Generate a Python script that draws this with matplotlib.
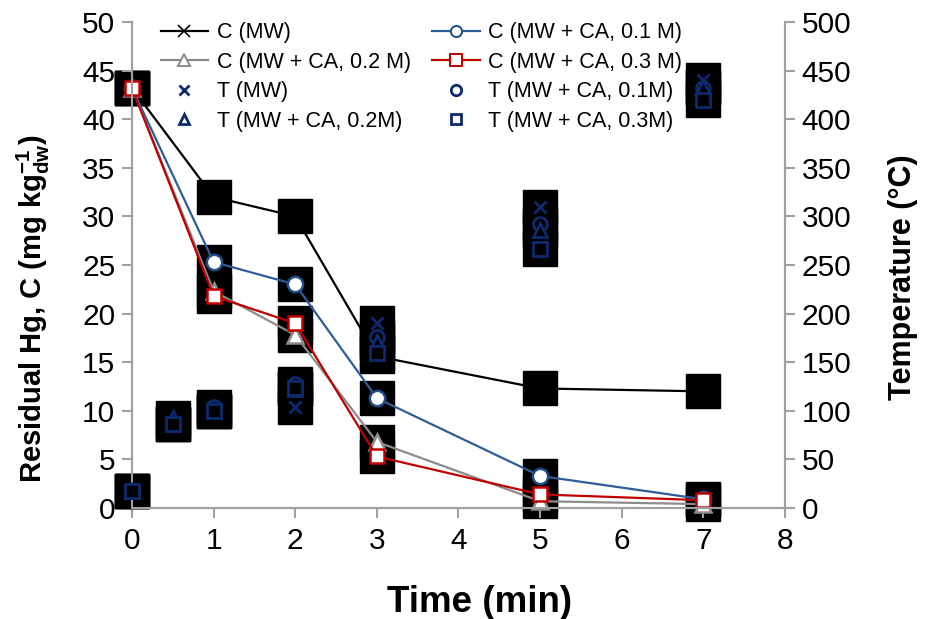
import matplotlib
matplotlib.use("Agg")
import matplotlib.pyplot as plt
from matplotlib.lines import Line2D

plt.rcParams['font.family'] = ['Liberation Sans', 'DejaVu Sans']
plt.rcParams['mathtext.fontset'] = 'custom'
plt.rcParams['mathtext.rm'] = 'Liberation Sans'
plt.rcParams['mathtext.bf'] = 'Liberation Sans:bold'

# ---- data ----
time_c = [0, 1, 2, 3, 5, 7]
c_mw = [43.2, 32.0, 30.0, 15.6, 12.3, 12.0]
c_ca01 = [43.2, 25.3, 23.0, 11.3, 3.3, 0.9]
c_ca02 = [43.2, 22.3, 17.8, 6.8, 0.7, 0.4]
c_ca03 = [43.2, 21.8, 19.0, 5.3, 1.4, 0.8]

time_t = [0, 0.5, 1, 2, 3, 5, 7]
t_mw = [18, 86, 100, 104, 190, 310, 440]
t_ca01 = [18, 86, 104, 128, 176, 292, 432]
t_ca02 = [18, 93, 100, 122, 171, 286, 433]
t_ca03 = [18, 86, 100, 123, 159, 266, 420]

labels_c = ['C (MW)', 'C (MW + CA, 0.1 M)', 'C (MW + CA, 0.2 M)', 'C (MW + CA, 0.3 M)']
labels_t = ['T (MW)', 'T (MW + CA, 0.1M)', 'T (MW + CA, 0.2M)', 'T (MW + CA, 0.3M)']

xticks = list(range(0, 9))
yticks_left = list(range(0, 55, 5))
yticks_right = list(range(0, 550, 50))

# ---- styles ----
c_styles = [
    dict(color='black', marker='x', mfc='black', mec='black', ms=9, mew=1.5),
    dict(color='#2F5D99', marker='o', mfc='white', mec='#1F4E89', ms=11, mew=1.8),
    dict(color='#8C8C8C', marker='^', mfc='white', mec='#8C8C8C', ms=11, mew=1.8),
    dict(color='#C00000', marker='s', mfc='white', mec='#C00000', ms=10.5, mew=1.8),
]
navy = '#0D2A6E'
t_markers = ['x', 'o', '^', 's']
t_ms = [9, 10, 10, 10]

fig = plt.figure(figsize=(9.27, 6.19), dpi=100)
ax = fig.add_axes([0.1424, 0.1793, 0.7044, 0.7852])
ax2 = ax.twinx()

box_ms = 24

# C series
for ys in [c_mw, c_ca01, c_ca02, c_ca03]:
    ax.plot(time_c, ys, ls='none', marker='s', ms=box_ms, mfc='black', mec='black', zorder=1, clip_on=False)
for ys, st, lab in zip([c_mw, c_ca01, c_ca02, c_ca03], c_styles, labels_c):
    ax.plot(time_c, ys, lw=1.6, color=st['color'], marker=st['marker'], mfc=st['mfc'],
            mec=st['mec'], ms=st['ms'], mew=st['mew'], zorder=3, clip_on=False, label=lab)

# T series
for ys in [t_mw, t_ca01, t_ca02, t_ca03]:
    ax2.plot(time_t, ys, ls='none', marker='s', ms=box_ms, mfc='black', mec='black', zorder=1, clip_on=False)
for ys, m, ms in zip([t_mw, t_ca01, t_ca02, t_ca03], t_markers, t_ms):
    ax2.plot(time_t, ys, ls='none', marker=m, ms=ms, mfc='black', mec=navy, mew=2.0,
             zorder=3, clip_on=False)

ax.set_xlim(0, 8)
ax.set_ylim(0, 50)
ax2.set_ylim(0, 500)
ax.set_xticks(xticks)
ax.set_yticks(yticks_left)
ax2.set_yticks(yticks_right)

spine_col = '#A0A0A0'
for a in (ax, ax2):
    for s in a.spines.values():
        s.set_color(spine_col)
        s.set_linewidth(1.5)
    a.spines['top'].set_visible(False)
    a.tick_params(colors=spine_col, labelcolor='black', labelsize=21.5, width=1.5, length=7, direction='out')
ax.tick_params(axis='x', pad=7)
ax.tick_params(axis='y', pad=5)
ax2.tick_params(axis='y', pad=5)

ax.set_xlabel('Time (min)', fontsize=26.5, fontweight='bold')
ax.xaxis.set_label_coords(0.533, -0.158)
ax.set_ylabel(r'Residual Hg, C (mg kg$_{\mathbf{dw}}^{\mathbf{-1}}$)', fontsize=21, fontweight='bold')
ax.yaxis.set_label_coords(-0.122, 0.41)
ax2.set_ylabel('Temperature (°C)', fontsize=22, fontweight='bold', rotation=90)
ax2.yaxis.set_label_coords(1.158, 0.475)

# legend
handles = []
for st, lab in zip(c_styles, labels_c):
    handles.append(Line2D([], [], lw=1.6, color=st['color'], marker=st['marker'], mfc=st['mfc'],
                          mec=st['mec'], ms=8, mew=st['mew'] * 0.8, label=lab))
for m, lab in zip(t_markers, labels_t):
    handles.append(Line2D([], [], ls='none', marker=m, mfc='none', mec=navy, ms=7.5, mew=2.0, label=lab))
col1 = [handles[0], handles[2], handles[4], handles[6]]
col2 = [handles[1], handles[3], handles[5], handles[7]]
leg = ax2.legend(col1 + col2, [h.get_label() for h in col1 + col2], ncol=2,
                 loc='upper left', bbox_to_anchor=(0.157, 0.988), bbox_transform=fig.transFigure,
                 frameon=False, fontsize=15.5, handlelength=2.2, handletextpad=0.4,
                 columnspacing=1.0, labelspacing=0.39, borderpad=0.2)
leg.set_zorder(10)

fig.savefig('out.png', dpi=100)
